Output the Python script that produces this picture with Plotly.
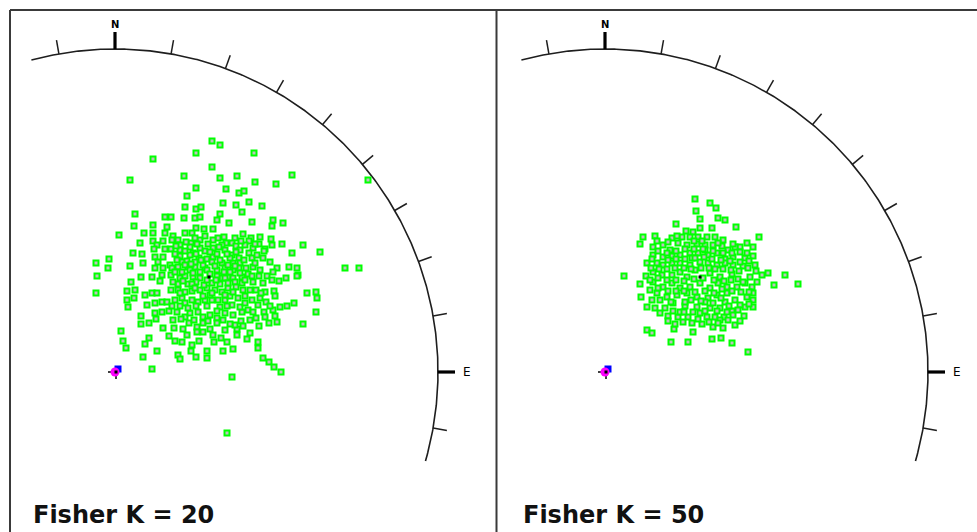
import numpy as np
import plotly.graph_objects as go

# ---------------- data (projection-plane offsets from the net centre; primitive radius = R_NET) -------------
R_NET = 323.0

# Fisher K = 20 sample: east / north offsets
k20_east = [
    97, 105, 38, 81, 139, 97, 69, 15, 105, 122,
    177, 140, 161, 81, 111, 124, 129, 72, 108, 134,
    121, 147, 70, 81, 86, 127, 20, 105, 50, 56,
    69, 80, 85, 102, 114, 137, 158, 168, 157, 19,
    38, 52, 81, 89, 98, 4, 29, 38, 50, 58,
    77, 103, 109, 128, 120, 136, 145, 156, 25, 38,
    42, 48, 57, 63, 65, 76, 85, 111, 117, 121,
    134, 144, 157, 167, 188, 205, 39, 50, 56, 75,
    90, 98, 138, 150, 18, 27, -6, -19, -7, 15,
    28, 40, 43, 48, 55, 65, 67, 72, 78, 84,
    92, 98, 107, 110, 102, 117, 124, 134, 137, 148,
    149, 177, 125, 118, 118, 124, 138, 133, 162, 174,
    182, 183, 230, 244, 253, 40, 48, 57, 63, 73,
    80, 90, -18, -19, 16, 20, 12, 26, 37, 45,
    47, 56, 63, 65, 70, 78, 85, 105, 113, 118,
    120, 127, 127, 138, 137, 144, 152, 164, 171, 182,
    192, 201, 159, 141, 165, 172, 179, 202, 201, 12,
    19, 13, 30, 37, 42, 32, 40, 47, 52, 60,
    67, 70, 77, 83, 90, 63, 70, 77, 85, 92,
    100, 107, 113, 97, 103, 110, 105, 102, 110, 26,
    26, 34, 41, 40, 47, 54, 62, 70, 75, 83,
    88, 95, 102, 48, 59, 68, 74, 82, 88, 95,
    102, 110, 82, 88, 98, 122, 122, 127, 126, 135,
    141, 144, 154, 158, 162, 160, 188, 6, 8, 11,
    30, 34, 42, 28, 60, 67, 77, 76, 63, 65,
    81, 84, 92, 92, 99, 108, 118, 143, 143, 148,
    154, 159, 166, 37, 117, 112, 70, 80, 90, 98,
    107, 65, 75, 85, 95, 110, 115, 125, 130, 70,
    80, 88, 97, 105, 113, 129, 67, 75, 85, 92,
    107, 115, 131, 73, 81, 89, 97, 105, 121, 135,
    150, 88, 95, 115, 123, 130, 137, 145, 151, 117,
    125, 133, 143, 149, 118, 135, 120,
]
k20_north = [
    231, 227, 213, 219, 219, 205, 196, 192, 194, 196,
    197, 190, 188, 184, 183, 179, 181, 176, 169, 170,
    167, 166, 165, 163, 165, 160, 158, 158, 155, 155,
    154, 154, 155, 152, 149, 150, 152, 149, 146, 146,
    147, 145, 144, 143, 143, 137, 139, 139, 139, 136,
    139, 134, 135, 138, 134, 134, 135, 133, 129, 131,
    127, 131, 132, 132, 127, 129, 132, 129, 129, 126,
    131, 128, 127, 128, 127, 120, 123, 123, 123, 125,
    121, 124, 124, 123, 119, 118, 113, 109, 104, 106,
    109, 115, 110, 115, 107, 116, 110, 111, 119, 114,
    113, 115, 109, 104, 102, 117, 114, 119, 114, 114,
    121, 119, 109, 109, 102, 104, 105, 98, 104, 105,
    104, 97, 104, 104, 192, 104, 104, 104, 105, 105,
    105, 104, 96, 79, 90, 82, 81, 95, 95, 91,
    97, 97, 88, 94, 96, 95, 94, 96, 95, 94,
    90, 95, 89, 90, 96, 96, 96, 91, 94, 96,
    79, 80, 81, 82, 65, 66, 69, 74, 60, 72,
    74, 65, 77, 79, 79, 67, 69, 70, 70, 72,
    74, 69, 72, 70, 72, 82, 80, 81, 82, 84,
    82, 80, 84, 72, 72, 72, 65, 61, 59, 56,
    48, 49, 53, 59, 60, 61, 60, 55, 59, 60,
    55, 57, 54, 44, 44, 43, 49, 45, 49, 43,
    49, 42, 40, 40, 37, 43, 37, 60, 51, 39,
    54, 46, 49, 62, 50, 56, 48, 41, 31, 24,
    28, 34, 21, 15, 31, 30, 27, 21, 17, 13,
    15, 31, 21, 14, 30, 21, 23, 30, 24, 14,
    10, 5, 0, 3, -5, -61, 139, 134, 136, 132,
    127, 122, 117, 124, 120, 122, 114, 122, 127, 107,
    110, 107, 110, 112, 107, 112, 100, 102, 100, 102,
    94, 100, 104, 88, 90, 87, 89, 88, 85, 82,
    80, 76, 77, 76, 74, 76, 72, 74, 70, 67,
    65, 62, 67, 60, 57, 52, 47,
]
# K = 20, densely packed core (estimated where the markers merge)
k20_core_east = [
    61, 71, 82, 93, 104, 126, 140,
    60, 70, 81, 102, 112, 121, 142,
    62, 76, 86, 100, 109, 120, 140, 155,
    60, 78, 95, 102, 110, 125, 145, 158,
    58, 68, 77, 92, 101, 113, 130, 148, 157,
    56, 65, 80, 97, 110, 118, 128, 146, 160,
    57, 65, 73, 81, 92, 112, 130, 138, 155,
    58, 66, 79, 93, 108, 115, 128, 150,
    54, 72, 106, 112, 132,
]
k20_core_north = [
    126, 130, 128, 128, 125, 131, 128,
    118, 121, 118, 118, 118, 120, 117,
    112, 108, 112, 106, 100, 106, 109, 110,
    100, 99, 98, 96, 94, 99, 102, 100,
    90, 91, 88, 92, 92, 89, 92, 89, 92,
    82, 79, 84, 79, 77, 80, 82, 79, 76,
    66, 66, 64, 66, 66, 66, 69, 60, 66,
    52, 53, 52, 51, 52, 48, 46, 55,
    36, 37, 34, 30, 33,
]

# Fisher K = 50 sample: east / north offsets
k50_east = [
    90, 105, 111, 91, 95, 113, 120, 71, 131, 95,
    107, 81, 88, 38, 50, 35, 154, 52, 67, 77,
    85, 93, 102, 110, 118, 48, 58, 65, 73, 82,
    92, 100, 108, 117, 123, 135, 135, 148, 48, 58,
    67, 75, 85, 93, 103, 112, 120, 128, 140, 148,
    42, 52, 58, 67, 75, 85, 95, 103, 112, 120,
    128, 138, 150, 151, 163, 180, 19, 41, 48, 57,
    67, 75, 82, 105, 115, 127, 133, 145, 157, 169,
    193, 35, 36, 48, 58, 67, 75, 85, 95, 105,
    113, 122, 132, 140, 147, 52, 62, 72, 82, 92,
    103, 112, 122, 130, 142, 148, 148, 42, 50, 60,
    68, 80, 92, 105, 115, 127, 140, 148, 63, 73,
    83, 95, 102, 110, 119, 128, 139, 63, 87, 97,
    108, 118, 130, 42, 47, 69, 88, 66, 83, 107,
    116, 127, 143, 62, 71, 100, 110, 87, 100, 80,
    120, 130, 55, 90, 100, 75, 115,
]
k50_north = [
    173, 169, 164, 161, 153, 154, 152, 148, 145, 144,
    144, 141, 140, 135, 136, 128, 135, 131, 134, 135,
    135, 135, 135, 135, 132, 125, 127, 122, 129, 127,
    128, 127, 127, 126, 122, 125, 120, 125, 117, 115,
    116, 117, 119, 119, 117, 119, 113, 115, 114, 116,
    109, 109, 107, 109, 109, 107, 110, 109, 107, 109,
    107, 106, 107, 101, 99, 97, 96, 96, 100, 97,
    97, 100, 95, 99, 95, 98, 93, 95, 97, 87,
    88, 88, 75, 90, 85, 89, 84, 85, 89, 84,
    89, 85, 85, 89, 85, 79, 75, 77, 79, 75,
    74, 77, 79, 72, 75, 79, 72, 65, 64, 64,
    69, 66, 65, 64, 64, 61, 65, 65, 56, 55,
    55, 59, 55, 55, 55, 57, 56, 51, 49, 48,
    45, 44, 47, 42, 39, 43, 40, 30, 30, 33,
    34, 29, 20, 103, 81, 81, 103, 114, 70, 70,
    70, 125, 72, 102, 122, 60, 52,
]
# K = 50, densely packed core (estimated where the markers merge)
k50_core_east = [
    63, 72, 89, 97, 113, 128, 142,
    53, 62, 71, 80, 89, 98, 108, 118, 127, 142,
    47, 63, 71, 80, 90, 99, 107, 116, 125, 135, 144,
    46, 54, 70, 79, 86, 96, 104, 118, 126, 134, 143,
    45, 53, 62, 71, 79, 89, 98, 109, 119, 126, 138, 152,
    45, 53, 63, 79, 90, 109, 117, 127, 136, 144,
    47, 66, 86, 96, 108, 116, 124, 135, 144,
    55, 68, 79, 88, 100, 112, 122, 133,
    70, 78, 93, 104, 113, 123, 135,
]
k50_core_north = [
    130, 136, 131, 131, 129, 128, 129,
    121, 119, 121, 123, 123, 123, 121, 119, 119, 119,
    113, 112, 113, 113, 114, 115, 113, 112, 111, 110, 111,
    104, 103, 104, 104, 103, 104, 104, 103, 102, 101, 104,
    92, 94, 92, 92, 91, 93, 94, 92, 91, 92, 90, 90,
    82, 84, 81, 81, 80, 79, 83, 81, 80, 80,
    72, 70, 72, 71, 69, 74, 66, 67, 68,
    59, 61, 60, 60, 61, 61, 60, 62,
    48, 50, 53, 50, 49, 52, 51,
]

mean_dir = {"K20": (94, 95), "K50": (95, 95)}
panels = ["Fisher K = 20", "Fisher K = 50"]
tick_degrees = list(range(-10, 101, 10))

# ---------------- figure ----------------
W, H = 977, 532
centres_px = [(115, 372), (605, 372)]

fig = go.Figure()

def add_panel(axis, east, north, mean):
    xa = "x" if axis == 1 else "x2"
    e = np.array(east) / R_NET
    n = np.array(north) / R_NET
    # primitive arc
    th = np.radians(np.linspace(-15, 106, 400))
    fig.add_trace(go.Scatter(x=np.sin(th), y=np.cos(th), mode="lines",
                             line=dict(color="#1e1e1e", width=1.6),
                             hoverinfo="skip", xaxis=xa, yaxis="y"))
    # ticks
    tx, ty = [], []
    for d in tick_degrees:
        if d in (0, 90):
            continue
        t = np.radians(d)
        r0, r1 = 1.0, 1.0 + 14 / R_NET
        tx += [r0 * np.sin(t), r1 * np.sin(t), None]
        ty += [r0 * np.cos(t), r1 * np.cos(t), None]
    fig.add_trace(go.Scatter(x=tx, y=ty, mode="lines",
                             line=dict(color="#1e1e1e", width=1.5),
                             hoverinfo="skip", xaxis=xa, yaxis="y"))
    L = 1.0 + 17 / R_NET
    fig.add_trace(go.Scatter(x=[0, 0, None, 1.0, L], y=[1.0, L, None, 0, 0], mode="lines",
                             line=dict(color="#000000", width=3.2),
                             hoverinfo="skip", xaxis=xa, yaxis="y"))
    # data points
    fig.add_trace(go.Scatter(x=e, y=n, mode="markers",
                             marker=dict(symbol="square", size=5, color="#c0c0c0",
                                         line=dict(color="#00ff00", width=2)),
                             hoverinfo="skip", xaxis=xa, yaxis="y"))
    # mean direction
    fig.add_trace(go.Scatter(x=[mean[0] / R_NET], y=[mean[1] / R_NET], mode="markers",
                             marker=dict(symbol="square", size=3, color="#000000"),
                             hoverinfo="skip", xaxis=xa, yaxis="y"))
    # net centre symbol
    s = 1 / R_NET
    fig.add_trace(go.Scatter(x=[-7 * s, -2 * s, None, 1 * s, 1 * s], y=[0, 0, None, -2 * s, -7 * s],
                             mode="lines", line=dict(color="#000000", width=1.5),
                             hoverinfo="skip", xaxis=xa, yaxis="y"))
    fig.add_trace(go.Scatter(x=[3 * s], y=[3 * s], mode="markers",
                             marker=dict(symbol="square", size=7, color="#0000ff"),
                             hoverinfo="skip", xaxis=xa, yaxis="y"))
    fig.add_trace(go.Scatter(x=[0], y=[0], mode="markers",
                             marker=dict(symbol="circle", size=9, color="#ff00ff"),
                             hoverinfo="skip", xaxis=xa, yaxis="y"))
    fig.add_trace(go.Scatter(x=[1 * s], y=[0], mode="markers",
                             marker=dict(symbol="square", size=3, color="#000000"),
                             hoverinfo="skip", xaxis=xa, yaxis="y"))
    # N / E labels
    fig.add_annotation(x=0, y=(372 - 24) / R_NET, xref=xa, yref="y", text="<b>N</b>",
                       showarrow=False, font=dict(family="DejaVu Sans", size=10, color="#000"),
                       xanchor="center", yanchor="middle")
    fig.add_annotation(x=352 / R_NET, y=0, xref=xa, yref="y", text="E",
                       showarrow=False, font=dict(family="DejaVu Sans", size=12, color="#000"),
                       xanchor="center", yanchor="middle")

add_panel(1, k20_east + k20_core_east, k20_north + k20_core_north, mean_dir["K20"])
add_panel(2, k50_east + k50_core_east, k50_north + k50_core_north, mean_dir["K50"])

for i, label in enumerate(panels):
    cx = centres_px[i][0]
    fig.add_annotation(x=(cx - 84) / W, y=1 - 515 / H, xref="paper", yref="paper",
                       text="<b>" + label + "</b>", showarrow=False,
                       font=dict(family="DejaVu Sans", size=24, color="#111"),
                       xanchor="left", yanchor="middle")

# frame lines
frame = dict(color="#3a3a3a", width=2)
fig.add_shape(type="line", xref="paper", yref="paper", x0=10 / W, x1=1, y0=1 - 10 / H, y1=1 - 10 / H, line=frame)
fig.add_shape(type="line", xref="paper", yref="paper", x0=10 / W, x1=10 / W, y0=0, y1=1 - 10 / H, line=frame)
fig.add_shape(type="line", xref="paper", yref="paper", x0=496.5 / W, x1=496.5 / W, y0=0, y1=1 - 10 / H, line=frame)

ax_common = dict(visible=False, showgrid=False, zeroline=False, fixedrange=True)
fig.update_layout(
    width=W, height=H, margin=dict(l=0, r=0, t=0, b=0),
    paper_bgcolor="white", plot_bgcolor="white", showlegend=False,
    xaxis=dict(range=[-centres_px[0][0] / R_NET, (W - centres_px[0][0]) / R_NET], domain=[0, 1], **ax_common),
    xaxis2=dict(range=[-centres_px[1][0] / R_NET, (W - centres_px[1][0]) / R_NET], domain=[0, 1],
                overlaying="x", **ax_common),
    yaxis=dict(range=[-(H - 372) / R_NET, 372 / R_NET], domain=[0, 1], **ax_common),
)

fig.write_html("out.html")
